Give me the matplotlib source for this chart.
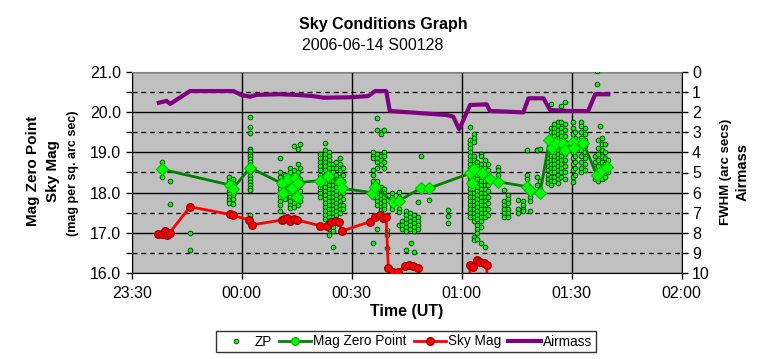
import matplotlib
matplotlib.use("Agg")
import matplotlib.pyplot as plt
from matplotlib.lines import Line2D

plt.rcParams['font.family'] = ['Liberation Sans', 'DejaVu Sans']

# ---- data (time in minutes after 23:30 UT) ----
tick_minutes = [0, 30, 60, 90, 120, 150]
tick_labels = ["23:30", "00:00", "00:30", "01:00", "01:30", "02:00"]

# ZP individual measurements, grouped by time column
zp_columns = [
    (8.2, [18.77, 18.38]),
    (10.4, [18.30, 17.72]),
    (15.9, [16.99, 16.58]),
    (26.6, [18.38, 18.30, 18.22, 18.15, 18.05, 17.97, 17.90, 17.82, 17.75]),
    (27.7, [18.35, 18.25, 18.10, 17.95, 17.85, 17.72]),
    (32.3, [19.88, 19.62, 19.47, 19.08, 19.03, 18.97, 18.90, 18.83, 18.75, 18.68,
            18.60, 18.50, 18.42, 18.35, 18.27, 18.20, 18.12, 18.07, 17.45, 17.30]),
    (40.5, [18.85, 18.50, 18.40, 18.30, 18.20, 18.10, 18.00, 17.90, 17.80, 17.70, 17.55]),
    (41.8, [18.45, 18.35, 18.25, 18.15, 18.05, 17.95, 17.85]),
    (43.2, [18.60, 18.50, 18.40, 18.30, 18.20, 18.10, 18.00, 17.90, 17.80, 17.70, 17.62]),
    (44.3, [19.15, 18.55, 18.45, 18.35, 18.25, 18.15, 18.05, 17.95, 17.85, 17.75, 17.65]),
    (45.3, [19.08, 18.70, 18.50, 18.40, 18.30, 18.20, 18.10, 18.00, 17.90, 17.80, 17.70]),
    (46.0, [19.20, 18.60, 18.35, 18.20, 18.05, 17.90, 17.80]),
    (51.4, [18.95, 18.85, 18.75, 18.65, 18.55, 18.45, 18.35, 18.25, 18.15, 18.05, 17.98, 17.90]),
    (52.8, [19.22, 19.05, 18.95, 18.85, 18.75, 18.65, 18.55, 18.45, 18.35, 18.25, 18.15,
            18.05, 17.95, 17.85, 17.75, 17.65, 17.55, 17.45, 17.35]),
    (53.7, [19.00, 18.90, 18.80, 18.70, 18.60, 18.50, 18.40, 18.30, 18.20, 18.10, 18.00,
            17.90, 17.80, 17.70, 17.60, 17.50, 17.40, 17.30, 17.20, 17.10, 16.95]),
    (54.8, [18.70, 18.60, 18.50, 18.40, 18.30, 18.20, 18.10, 18.00, 17.90, 17.80, 17.70,
            17.60, 17.50, 17.40, 17.30, 17.15, 17.05, 16.66]),
    (55.8, [18.75, 18.60, 18.45, 18.35, 18.25, 18.15, 18.05, 17.95, 17.85, 17.75, 17.65,
            17.55, 17.45, 17.35]),
    (56.8, [18.85, 18.70, 18.55, 18.40, 18.30, 18.20, 18.10, 18.00, 17.90, 17.80, 17.70,
            17.60, 17.50]),
    (57.7, [18.60, 18.45, 18.30, 18.15, 18.00, 17.85, 17.70, 17.60]),
    (65.8, [19.00, 18.92, 18.85, 18.55, 18.45, 18.30, 18.20, 18.10, 18.00, 17.90, 16.74]),
    (66.8, [19.84, 19.55, 18.95, 18.85, 18.75, 18.60, 18.30, 18.20, 18.10, 18.00, 17.90,
            17.80, 17.70, 17.11]),
    (67.9, [19.50, 19.45, 18.90, 18.80, 18.70, 18.15, 18.05, 17.95, 17.85, 17.75, 17.65, 17.58]),
    (68.9, [19.55, 19.00, 18.90, 18.75, 18.60, 18.10, 18.00, 17.90, 17.80, 17.70, 17.60]),
    (69.6, [17.07, 16.95, 16.62]),
    (71.0, [18.00, 17.90, 17.80, 17.70, 17.60]),
    (72.9, [18.02, 17.90, 17.75, 17.60, 17.53, 17.20]),
    (73.6, [17.30, 17.20, 17.10]),
    (74.8, [17.55, 17.45, 17.35, 17.25, 17.15, 17.05, 16.58]),
    (75.9, [17.50, 17.40, 17.30, 17.20, 17.10]),
    (76.1, [16.74]),
    (77.0, [17.45, 17.35, 17.25, 17.15, 17.05, 16.53]),
    (78.2, [17.77, 17.40, 17.30, 17.20, 17.10]),
    (78.8, [18.91]),
    (81.1, [17.82]),
    (86.2, [17.56, 17.42, 17.25]),
    (92.3, [19.64, 19.30, 19.20, 19.10, 19.00, 18.90, 18.80, 18.70, 18.60, 18.50, 18.40,
            18.30, 18.20, 18.10, 18.00, 17.90, 17.80, 17.70, 17.60, 17.50, 17.40]),
    (93.3, [19.45, 19.35, 19.25, 18.90, 18.80, 18.70, 18.60, 18.50, 18.40, 18.30, 18.20,
            18.10, 18.00, 17.90, 17.80, 17.70, 17.60, 17.50, 17.40, 17.30, 16.90, 16.82]),
    (94.3, [18.75, 18.65, 18.55, 18.45, 18.35, 18.25, 18.15, 18.05, 17.95, 17.85, 17.75,
            17.65, 17.55, 17.45, 17.35, 17.20, 17.10, 17.00, 16.85]),
    (95.3, [18.95, 18.90, 18.70, 18.60, 18.50, 18.40, 18.30, 18.20, 18.10, 18.00, 17.90,
            17.80, 17.70, 17.60, 17.50, 17.40, 17.30, 17.15, 16.75]),
    (96.3, [18.80, 18.60, 18.50, 18.40, 18.30, 18.20, 18.10, 18.00, 17.90, 17.80, 17.70,
            17.60, 17.50, 17.40, 16.64]),
    (97.3, [18.70, 18.55, 18.40, 18.30, 18.20, 18.05, 17.90, 17.75, 17.60, 17.45]),
    (100.0, [18.64, 18.55, 18.45, 18.30]),
    (101.4, [18.06, 17.80, 17.70, 17.60, 17.50, 17.40]),
    (102.6, [17.95, 17.85, 17.75, 17.60, 17.50, 17.40]),
    (105.4, [17.82, 17.60, 17.50]),
    (106.6, [17.80, 17.70, 17.60, 17.55]),
    (107.7, [19.06, 18.45, 18.35, 18.20]),
    (108.7, [18.10, 18.00, 17.90, 17.80, 17.55]),
    (110.5, [19.06, 19.07, 18.40, 18.20]),
    (111.4, [19.08, 18.30, 18.10]),
    (113.6, [18.95, 18.85, 18.75, 18.65, 18.55, 18.45, 18.35, 18.25]),
    (114.3, [20.20, 19.60, 19.50, 19.40, 19.30, 19.20, 19.10, 19.00, 18.90, 18.80, 18.70,
             18.60, 18.50, 18.40, 18.30, 18.20]),
    (115.2, [19.70, 19.60, 19.50, 19.40, 19.30, 19.20, 19.10, 19.00, 18.90, 18.80, 18.70,
             18.60, 18.50, 18.40, 18.30]),
    (116.2, [19.75, 19.65, 19.55, 19.45, 19.35, 19.25, 19.15, 19.05, 18.95, 18.85, 18.75,
             18.65, 18.55, 18.45, 18.35, 18.25]),
    (117.2, [20.15, 19.75, 19.60, 19.50, 19.40, 19.30, 19.20, 19.10, 19.00, 18.90, 18.80,
             18.70, 18.60, 18.50, 18.40]),
    (118.2, [20.25, 19.70, 19.55, 19.40, 19.25, 19.10, 18.95, 18.80, 18.65, 18.50, 18.35]),
    (120.3, [19.76, 19.60, 19.45, 19.30, 19.15, 19.00, 18.85, 18.70, 18.55, 18.40, 18.27]),
    (121.0, [19.50, 19.35, 19.20, 19.05, 18.90, 18.75, 18.60, 18.45]),
    (122.5, [19.76, 19.65, 19.50, 19.35, 19.20, 19.05, 18.90, 18.75, 18.60, 18.50]),
    (123.5, [19.60, 19.45, 19.30, 19.15, 19.00, 18.85, 18.70, 18.55]),
    (126.4, [18.90, 18.75, 18.60, 18.45, 18.35]),
    (126.8, [21.02, 20.69]),
    (127.3, [19.30, 19.10, 18.95, 18.80, 18.65, 18.50, 18.40, 18.30]),
    (127.7, [19.65]),
    (128.2, [19.35, 19.20, 19.05, 18.90, 18.75, 18.60, 18.45, 18.35]),
    (129.1, [19.20, 19.00, 18.85, 18.70, 18.55, 18.40]),
    (129.9, [18.80, 18.65, 18.50]),
]

mzp_times = [8.2, 26.8, 27.5, 32.3, 40.9, 41.3, 42.7, 43.6, 44.5, 45.0, 45.4, 51.4, 53.6,
             56.8, 57.3, 65.5, 66.4, 71.2, 72.9, 78.8, 81.1, 92.3, 92.7, 93.4, 95.5, 97.7,
             100.0, 107.7, 108.6, 111.4, 113.9, 114.5, 115.7, 117.7, 118.2, 120.3, 120.6,
             123.2, 126.8, 128.2, 129.5]
mzp_values = [18.58, 18.19, 18.09, 18.62, 18.23, 17.98, 18.35, 18.11, 18.36, 17.90, 18.25,
              18.30, 18.41, 18.27, 18.11, 18.00, 18.15, 17.77, 17.80, 18.11, 18.11, 18.48,
              18.23, 18.58, 18.48, 18.35, 18.27, 18.15, 18.07, 18.00, 19.31, 19.12, 19.22,
              19.20, 19.07, 19.26, 19.10, 19.23, 18.44, 18.56, 18.63]

sky_times = [7.3, 8.2, 9.1, 9.7, 10.4, 15.9, 26.8, 27.5, 32.1, 32.7, 40.9, 41.5, 42.3, 43.3,
             44.2, 45.2, 51.4, 53.2, 54.3, 55.5, 56.4, 57.4, 65.0, 66.4, 67.7, 68.5, 69.4,
             70.0, 71.2, 72.7, 74.5, 75.5, 76.8, 78.2, 79.0, 91.6, 92.3, 93.2, 94.1, 95.0,
             96.0, 96.8, 97.6]
sky_values = [16.97, 16.98, 17.05, 16.95, 17.01, 17.65, 17.46, 17.44, 17.32, 17.20, 17.32,
              17.35, 17.36, 17.30, 17.34, 17.32, 17.18, 17.18, 17.27, 17.30, 17.28, 17.05,
              17.28, 17.40, 17.44, 17.38, 17.40, 16.12, 16.04, 16.04, 16.18, 16.20, 16.18,
              16.12, 14.50, 14.50, 16.20, 16.16, 16.33, 16.28, 16.25, 16.20, 14.50]

air_times = [7.4, 9.5, 10.5, 15.9, 27.7, 30.0, 32.3, 34.0, 40.4, 45.0, 49.5, 52.3, 59.5,
             64.5, 66.4, 69.4, 70.4, 76.8, 85.9, 87.7, 89.3, 92.3, 96.8, 97.7, 102.3, 106.8,
             108.2, 112.3, 114.1, 119.5, 124.5, 126.4, 130.0]
air_values = [1.54, 1.45, 1.60, 0.96, 0.96, 1.16, 1.24, 1.15, 1.12, 1.15, 1.21, 1.29, 1.27,
              1.21, 0.96, 0.96, 1.95, 2.03, 2.15, 2.23, 2.86, 1.65, 1.62, 1.95, 1.98, 2.02,
              1.32, 1.32, 1.90, 1.95, 1.95, 1.12, 1.12]

zp_t = [t for t, vals in zp_columns for _ in vals]
zp_v = [v for _, vals in zp_columns for v in vals]

# ---- figure ----
W, H = 764, 359
fig = plt.figure(figsize=(W / 100, H / 100), dpi=100)
x0, x1 = 131.7, 681.7
y0, y1 = 71.7, 273.3
ax = fig.add_axes([x0 / W, 1 - y1 / H, (x1 - x0) / W, (y1 - y0) / H])
ax.set_facecolor('#C0C0C0')

ax.set_xlim(0, 150)
ax.set_ylim(16, 21)
ax.set_xticks(tick_minutes)
ax.set_xticklabels(tick_labels)
ax.set_yticks([16, 17, 18, 19, 20, 21])
ax.set_yticklabels([f"{v:.1f}" for v in [16, 17, 18, 19, 20, 21]])
ax.set_yticks([16.5, 17.5, 18.5, 19.5, 20.5], minor=True)
ax.grid(True, which='major', axis='both', color='black', lw=1.0, ls='-', zorder=1)
ax.grid(True, which='minor', axis='y', color='black', lw=0.9, ls=(0, (4, 3)), zorder=1)
ax.set_axisbelow(True)
ax.tick_params(axis='both', which='both', direction='out', length=4, width=1,
               labelsize=11.5, colors='black')
ax.tick_params(axis='y', which='minor', length=4)
ax.tick_params(axis='x', pad=5)
for s in ['left', 'bottom', 'right']:
    ax.spines[s].set_color('black')
ax.spines['top'].set_color('#808080')

ax.plot(zp_t, zp_v, ls='none', marker='o', ms=3.4, mfc='#00FF00', mec='#003000',
        mew=0.6, zorder=3, label='ZP')
ax.plot(mzp_times, mzp_values, color='#008000', lw=2, marker='D', ms=6,
        mfc='#00FF00', mec='#00C000', mew=0.8, zorder=4, label='Mag Zero Point')
ax.plot(sky_times, sky_values, color='#FF0000', lw=2, marker='o', ms=5.6,
        mfc='#FF0000', mec='#900000', mew=0.8, zorder=4, label='Sky Mag')

ax2 = ax.twinx()
ax2.set_ylim(10, 0)
ax2.set_yticks(range(0, 11))
ax2.tick_params(axis='y', direction='out', length=4, width=1, labelsize=11.5)
ax2.plot(air_times, air_values, color='#800080', lw=3, zorder=5, label='Airmass')
for s in ax2.spines.values():
    s.set_visible(False)

ax.set_xlabel('Time (UT)', fontsize=11.5, fontweight='bold', labelpad=2)

fig.text(33 / W, 1 - 171 / H, 'Mag Zero Point', rotation=90, ha='center', va='center',
         fontsize=11, fontweight='bold')
fig.text(53 / W, 1 - 171 / H, 'Sky Mag', rotation=90, ha='center', va='center',
         fontsize=11, fontweight='bold')
fig.text(73 / W, 1 - 173 / H, '(mag per sq. arc sec)', rotation=90, ha='center',
         va='center', fontsize=9, fontweight='bold')
fig.text(726 / W, 1 - 172 / H, 'FWHM (arc secs)', rotation=90, ha='center', va='center',
         fontsize=9.5, fontweight='bold')
fig.text(743 / W, 1 - 172 / H, 'Airmass', rotation=90, ha='center', va='center',
         fontsize=10.5, fontweight='bold')

fig.text(383 / W, 1 - 25 / H, 'Sky Conditions Graph', ha='center', va='center',
         fontsize=11.5, fontweight='bold')
fig.text(373 / W, 1 - 45 / H, '2006-06-14 S00128', ha='center', va='center', fontsize=11.5)

handles = [
    Line2D([], [], ls='none', marker='o', ms=3.4, mfc='#00FF00', mec='#003000', mew=0.6),
    Line2D([], [], color='#008000', lw=2, marker='o', ms=5.5, mfc='#00FF00', mec='#00C000'),
    Line2D([], [], color='#FF0000', lw=2, marker='o', ms=5.5, mfc='#FF0000', mec='#900000'),
    Line2D([], [], color='#800080', lw=3),
]
leg = fig.legend(handles, ['ZP', 'Mag Zero Point', 'Sky Mag', 'Airmass'],
                 loc='center', bbox_to_anchor=(406 / W, 1 - 341.5 / H), ncol=4,
                 fontsize=9.8, frameon=True, fancybox=False, edgecolor='black',
                 handlelength=2.4, handletextpad=0.15, columnspacing=0.5,
                 borderpad=0.25, borderaxespad=0)
leg.get_frame().set_linewidth(1.0)

fig.savefig('out.png', dpi=100, facecolor='white')
